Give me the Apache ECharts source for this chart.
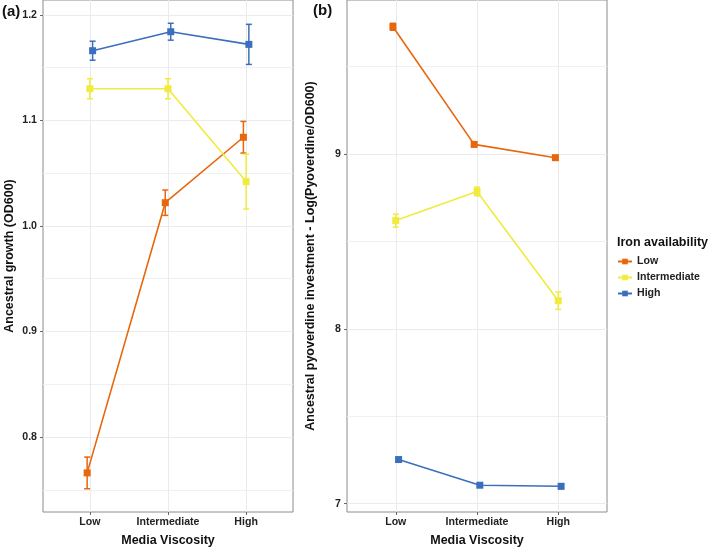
<!DOCTYPE html>
<html><head><meta charset="utf-8">
<script src="https://cdn.jsdelivr.net/npm/echarts@6/dist/echarts.min.js"></script>
<style>html,body{margin:0;padding:0;background:#fff}#c{width:709px;height:547px}</style>
</head><body><div id="c"></div>
<script>
// ---- data ----
const viscosity = ['Low', 'Intermediate', 'High'];
const ironLevels = ['Low', 'Intermediate', 'High'];

// panel (a): ancestral growth (OD600), mean and standard error per viscosity
const growthLow = [0.766, 1.022, 1.084];
const growthLowSE = [0.015, 0.012, 0.015];
const growthIntermediate = [1.130, 1.130, 1.042];
const growthIntermediateSE = [0.0095, 0.0095, 0.026];
const growthHigh = [1.166, 1.184, 1.172];
const growthHighSE = [0.009, 0.008, 0.019];

// panel (b): log(pyoverdine/OD600)
const pyoLow = [9.728, 9.055, 8.979];
const pyoLowSE = [0.02, 0.012, 0.01];
const pyoIntermediate = [8.619, 8.786, 8.161];
const pyoIntermediateSE = [0.037, 0.025, 0.05];
const pyoHigh = [7.252, 7.105, 7.099];
const pyoHighSE = [0.01, 0.008, 0.014];

// tick labels
const growthTicks = [0.8, 0.9, 1.0, 1.1, 1.2];
const growthMinorTicks = [0.75, 0.85, 0.95, 1.05, 1.15];
const pyoTicks = [7, 8, 9];
const pyoMinorTicks = [7.5, 8.5, 9.5];
const xTicks = [1, 2, 3];

// ---- styling ----
const FONT = "'Liberation Sans', Arial, sans-serif";
const colors = ['#E8660C', '#F0EB3E', '#3B6FBE'];
const dodge = [-0.035, 0, 0.035];

const growthMeans = [growthLow, growthIntermediate, growthHigh];
const growthSEs = [growthLowSE, growthIntermediateSE, growthHighSE];
const pyoMeans = [pyoLow, pyoIntermediate, pyoHigh];
const pyoSEs = [pyoLowSE, pyoIntermediateSE, pyoHighSE];

function paddedRange(means, ses) {
  let lo = Infinity, hi = -Infinity;
  means.forEach((arr, k) => arr.forEach((m, i) => {
    lo = Math.min(lo, m - ses[k][i]);
    hi = Math.max(hi, m + ses[k][i]);
  }));
  const pad = (hi - lo) * 0.05;
  return [lo - pad, hi + pad];
}
const rangeA = paddedRange(growthMeans, growthSEs);
const rangeB = paddedRange(pyoMeans, pyoSEs);

const tickLabelStyle = { fontFamily: FONT, fontSize: 10.6, fontWeight: 'bold', color: '#222' };
const titleStyle = { fontFamily: FONT, fontSize: 12.5, fontWeight: 'bold', color: '#111' };
const gridLine = { show: true, lineStyle: { color: '#ebebeb', width: 1 } };

function xAxis(gi) {
  return {
    type: 'value', gridIndex: gi, min: 0.4, max: 3.6,
    name: 'Media Viscosity', nameLocation: 'middle', nameGap: 22, nameTextStyle: titleStyle,
    axisLine: { show: false },
    axisTick: { show: true, length: 3, lineStyle: { color: '#666' }, customValues: xTicks },
    axisLabel: Object.assign({ customValues: xTicks, margin: 5, formatter: v => viscosity[Math.round(v) - 1] }, tickLabelStyle),
    splitLine: gridLine
  };
}
function yMain(gi, range, ticks, name, gap, fmt) {
  return {
    type: 'value', gridIndex: gi, min: range[0], max: range[1],
    name: name, nameLocation: 'middle', nameGap: gap, nameTextStyle: titleStyle,
    axisLine: { show: false },
    axisTick: { show: true, length: 3, lineStyle: { color: '#666' }, customValues: ticks },
    axisLabel: Object.assign({ customValues: ticks, margin: 6, formatter: fmt }, tickLabelStyle),
    splitLine: gridLine
  };
}
function yMinor(gi, range, ticks) {
  return {
    type: 'value', gridIndex: gi, min: range[0], max: range[1],
    axisLine: { show: false },
    axisTick: { show: false, customValues: ticks },
    axisLabel: { show: false, customValues: ticks },
    splitLine: { show: true, lineStyle: { color: '#f0f0f0', width: 1 } }
  };
}

function errorSeries(means, ses, k, xi, yi) {
  return {
    type: 'custom', name: ironLevels[k] + ' SE', xAxisIndex: xi, yAxisIndex: yi, z: 2,
    data: means.map((m, i) => [i + 1 + dodge[k], m - ses[i], m + ses[i]]),
    encode: { x: 0, y: [1, 2] },
    renderItem: function (params, api) {
      const x = api.value(0);
      const p1 = api.coord([x, api.value(1)]);
      const p2 = api.coord([x, api.value(2)]);
      const w = 3;
      const st = { stroke: colors[k], lineWidth: 1.5 };
      return {
        type: 'group', children: [
          { type: 'line', shape: { x1: p1[0], y1: p1[1], x2: p2[0], y2: p2[1] }, style: st },
          { type: 'line', shape: { x1: p1[0] - w, y1: p1[1], x2: p1[0] + w, y2: p1[1] }, style: st },
          { type: 'line', shape: { x1: p2[0] - w, y1: p2[1], x2: p2[0] + w, y2: p2[1] }, style: st }
        ]
      };
    }
  };
}
function lineSeries(means, k, xi, yi) {
  return {
    type: 'line', name: ironLevels[k], xAxisIndex: xi, yAxisIndex: yi, z: 3,
    data: means.map((m, i) => [i + 1 + dodge[k], m]),
    symbol: 'rect', symbolSize: 7,
    lineStyle: { width: 1.6, color: colors[k] },
    itemStyle: { color: colors[k] },
    emphasis: { disabled: true }, animation: false
  };
}

const series = [];
for (let k = 0; k < 3; k++) {
  series.push(lineSeries(growthMeans[k], k, 0, 0));
  series.push(errorSeries(growthMeans[k], growthSEs[k], k, 0, 0));
  series.push(lineSeries(pyoMeans[k], k, 1, 2));
  series.push(errorSeries(pyoMeans[k], pyoSEs[k], k, 1, 2));
}

const chart = echarts.init(document.getElementById('c'), null, { renderer: 'canvas' });
chart.setOption({
  animation: false,
  backgroundColor: '#fff',
  title: [
    { text: '(a)', left: 2, top: 4, padding: 0, textStyle: { fontFamily: FONT, fontSize: 15, fontWeight: 'bold', color: '#111' } },
    { text: '(b)', left: 313, top: 3, padding: 0, textStyle: { fontFamily: FONT, fontSize: 15, fontWeight: 'bold', color: '#111' } },
    { text: 'Iron availability', left: 617, top: 236, padding: 0, textStyle: titleStyle }
  ],
  legend: {
    orient: 'vertical', left: 617, top: 256, padding: 0,
    itemWidth: 14, itemHeight: 7, itemGap: 5,
    data: ironLevels, selectedMode: false,
    textStyle: tickLabelStyle
  },
  grid: [
    { left: 43, top: 0, right: 416, bottom: 35, show: true, borderColor: '#8c8c8c', borderWidth: 1, backgroundColor: '#fff', outerBoundsMode: 'none', containLabel: false },
    { left: 347, top: 0, right: 102, bottom: 35, show: true, borderColor: '#8c8c8c', borderWidth: 1, backgroundColor: '#fff', outerBoundsMode: 'none', containLabel: false }
  ],
  xAxis: [xAxis(0), xAxis(1)],
  yAxis: [
    yMain(0, rangeA, growthTicks, 'Ancestral growth (OD600)', 27, v => v.toFixed(1)),
    yMinor(0, rangeA, growthMinorTicks),
    yMain(1, rangeB, pyoTicks, 'Ancestral pyoverdine investment - Log(Pyoverdine/OD600)', 30, v => String(Math.round(v))),
    yMinor(1, rangeB, pyoMinorTicks)
  ],
  series: series
});
</script>
</body></html>
